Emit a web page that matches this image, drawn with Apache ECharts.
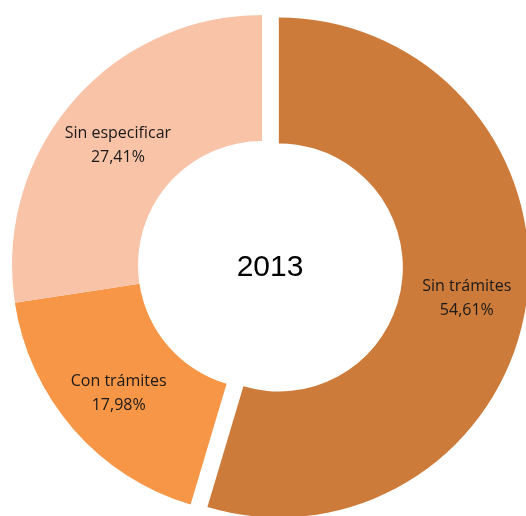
<!DOCTYPE html>
<html>
<head>
<meta charset="utf-8">
<script src="https://cdn.jsdelivr.net/npm/echarts@6/dist/echarts.min.js"></script>
<style>
  html, body { margin: 0; padding: 0; background: #fff; }
  #chart { width: 526px; height: 516px; }
</style>
</head>
<body>
<div id="chart"></div>
<script>
const categories = ['Sin trámites', 'Con trámites', 'Sin especificar'];
const shares = [54.61, 17.98, 27.41];
const colors = ['#CD7B3A', '#F79646', '#F9C3A8'];
const centerLabel = '2013';

const pieData = categories.map((name, i) => ({
  name: name,
  value: shares[i],
  selected: i === 0,
  itemStyle: { color: colors[i] }
}));

const chart = echarts.init(document.getElementById('chart'));
chart.setOption({
  animation: false,
  graphic: [
    {
      type: 'text',
      x: 270,
      y: 268,
      style: {
        text: centerLabel,
        fontFamily: 'Liberation Sans',
        fontSize: 30,
        fill: '#000',
        align: 'center',
        verticalAlign: 'middle'
      }
    }
  ],
  series: [
    {
      type: 'pie',
      center: [262, 265],
      radius: [124, 250],
      startAngle: 90,
      clockwise: true,
      selectedMode: 'single',
      selectedOffset: 17,
      select: { itemStyle: { borderWidth: 0 } },
      label: {
        show: true,
        position: 'inside',
        formatter: p => p.name + '\n' + p.value.toFixed(2).replace('.', ',') + '%',
        fontFamily: 'Open Sans',
        fontSize: 16,
        lineHeight: 24,
        color: '#1a1a1a'
      },
      labelLayout: { dy: 4 },
      labelLine: { show: false },
      emphasis: { disabled: true },
      data: pieData
    }
  ]
});
</script>
</body>
</html>
